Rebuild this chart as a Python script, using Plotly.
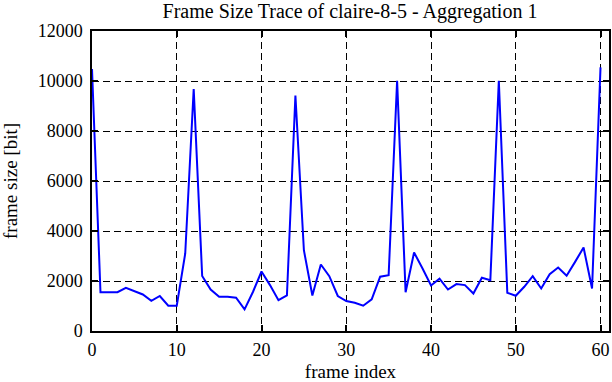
import plotly.graph_objects as go

frame_index = list(range(61))
frame_size = [10480, 1550, 1550, 1550, 1730, 1610, 1460, 1210, 1400, 1010,
              1010, 3100, 9680, 2200, 1660, 1370, 1370, 1330, 865, 1570,
              2380, 1835, 1235, 1420, 9420, 3230, 1420, 2660, 2195, 1400,
              1200, 1130, 1010, 1265, 2170, 2235, 10010, 1550, 3140, 2500,
              1820, 2090, 1660, 1875, 1835, 1500, 2130, 2035, 10010, 1530,
              1410, 1770, 2195, 1700, 2275, 2540, 2210, 2765, 3340, 1700,
              10545]
x_ticks = [0, 10, 20, 30, 40, 50, 60]
y_ticks = [0, 2000, 4000, 6000, 8000, 10000, 12000]
y_tick_labels = ["0", "2000", "4000", "6000", "8000", "10000", "12000"]

font = "Liberation Serif"

fig = go.Figure()
fig.add_trace(go.Scatter(x=frame_index, y=frame_size, mode="lines",
                         line=dict(color="#0000ff", width=2), showlegend=False))

axis_common = dict(showline=True, linecolor="black", linewidth=1.5, mirror="allticks",
                   ticks="inside", ticklen=6, tickcolor="black", tickwidth=1.5,
                   showgrid=True, gridcolor="black", gridwidth=1, griddash="7px,4px",
                   zeroline=False, automargin=False,
                   tickfont=dict(family=font, size=18, color="black"))

fig.update_layout(
    width=612, height=382,
    margin=dict(l=92, r=3, t=31, b=51),
    paper_bgcolor="white", plot_bgcolor="white",
    font=dict(family=font, color="black"),
    title=dict(text="Frame Size Trace of claire-8-5 - Aggregation 1",
               font=dict(family=font, size=20, color="black"),
               x=350 / 612, xanchor="center", y=0.99, yanchor="top"),
    xaxis=dict(range=[0, 61], tickvals=x_ticks, ticklabelstandoff=2,
               title=dict(text="frame index", font=dict(family=font, size=19, color="black"), standoff=10),
               **axis_common),
    yaxis=dict(range=[0, 12000], tickvals=y_ticks, ticktext=y_tick_labels, ticklabelstandoff=4,
               title=dict(text="frame size [bit]", font=dict(family=font, size=19, color="black"), standoff=16),
               **axis_common),
)

fig.write_html("out.html", config={"displayModeBar": False},
               post_script="document.body.style.margin='0';")
